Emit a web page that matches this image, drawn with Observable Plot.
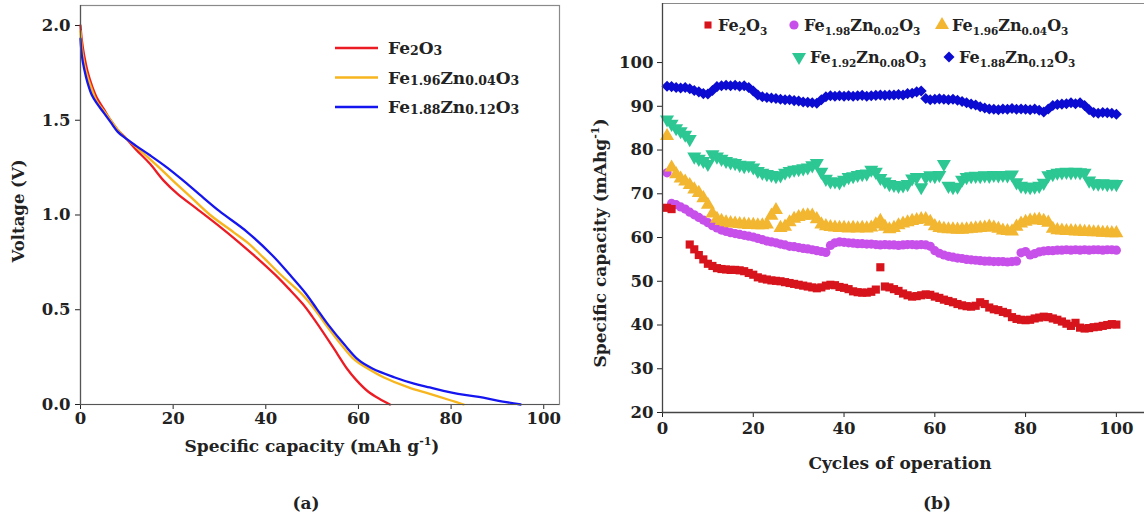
<!DOCTYPE html>
<html><head><meta charset="utf-8">
<script src="https://cdn.jsdelivr.net/npm/d3@7"></script>
<script src="https://cdn.jsdelivr.net/npm/@observablehq/plot@0.6"></script>
<style>
body{margin:0;background:#fff;}
#wrap{position:relative;width:1144px;height:520px;overflow:hidden;background:#fff;}
#pa{position:absolute;left:0;top:0;}
#pb{position:absolute;left:575px;top:0;}
</style></head><body><div id="wrap"><div id="pa"></div><div id="pb"></div></div>
<script>
// ---------- Panel (a): discharge curves ----------
const capFe2O3 = [0,0.3,0.8,1.5,2.5,3.5,5,6.5,8,10,12,15,18,21,25,30,34,38,42,45,48,50,53.5,55.5,57.5,59.5,62,64.5,66.8];
const vFe2O3   = [2.0,1.92,1.84,1.76,1.68,1.62,1.56,1.50,1.45,1.40,1.345,1.27,1.18,1.11,1.035,0.94,0.86,0.775,0.685,0.61,0.53,0.465,0.34,0.265,0.19,0.13,0.07,0.03,0.0];
const capZn04 = [0,0.3,0.8,1.5,2.5,3.5,5,6.5,8,10,12,15,17,20,24,28,33,36,39.5,43,47.7,50,52.7,56,59.2,62,65.4,70.8,75.4,80,82.7];
const vZn04   = [1.97,1.88,1.80,1.73,1.66,1.60,1.55,1.50,1.45,1.40,1.36,1.295,1.25,1.18,1.09,1.0,0.91,0.855,0.775,0.69,0.585,0.52,0.43,0.325,0.235,0.19,0.144,0.09,0.056,0.021,0.0];
const capZn12 = [0,0.3,0.8,1.5,2.5,3.5,5,6.5,8,10,12,15,18.7,22,25.6,30,36,41.5,45,48.5,51,53.5,57,60,63,67.7,72,75.4,81.5,86,90,95];
const vZn12   = [1.93,1.84,1.77,1.70,1.63,1.59,1.54,1.49,1.44,1.40,1.365,1.315,1.25,1.185,1.11,1.02,0.91,0.785,0.69,0.59,0.505,0.42,0.315,0.235,0.19,0.144,0.11,0.09,0.056,0.04,0.021,0.0];
const xTicksA = [0,20,40,60,80,100];
const yTicksA = [0,0.5,1.0,1.5,2.0];

// ---------- Panel (b): cycling ----------
const cycles = d3.range(1, 101);
const capBFe2O3 = [66.8,66.5,null,null,null,58.4,57.3,56.0,55.0,54.0,
 53.5,53.0,52.8,52.7,52.6,52.6,52.5,52.3,51.9,51.5,
 50.9,50.6,50.4,50.2,50.1,50.0,49.8,49.6,49.4,49.2,
 49.0,48.8,48.6,48.4,48.6,49.0,49.2,49.1,48.7,48.5,
 48.2,47.7,47.5,47.4,47.4,47.6,48.1,53.2,48.8,48.6,
 48.2,47.8,47.2,46.8,46.5,46.6,46.8,47.0,46.9,46.5,
 46.2,45.8,45.5,45.2,44.8,44.5,44.3,44.2,44.4,45.2,
 44.8,44.0,43.6,43.4,43.0,42.7,41.8,41.4,41.2,41.1,
 41.2,41.5,41.7,41.9,41.8,41.5,41.2,40.8,40.3,39.8,
 40.5,39.4,39.2,39.3,39.5,39.6,39.8,40.0,40.2,40.1];
const capBZn02 = [74.8,67.8,67.5,67.0,66.5,65.8,65.2,64.6,64.0,63.4,
 62.7,62.2,61.7,61.4,61.1,60.9,60.7,60.5,60.3,60.1,
 59.8,59.5,59.2,59.0,58.8,58.5,58.3,58.0,57.9,57.7,
 57.5,57.4,57.2,57.0,56.8,56.6,58.2,58.8,59.0,58.9,
 58.8,58.7,58.6,58.6,58.5,58.5,58.4,58.3,58.4,58.3,
 58.3,58.2,58.3,58.4,58.4,58.3,58.4,58.3,58.0,57.0,
 56.4,56.0,55.7,55.5,55.3,55.2,55.0,54.9,54.8,54.7,
 54.6,54.6,54.5,54.5,54.5,54.4,54.5,54.6,56.5,56.8,
 56.0,56.3,56.7,56.9,57.0,57.0,57.1,57.1,57.2,57.1,
 57.2,57.1,57.2,57.1,57.2,57.2,57.1,57.2,57.2,57.1];
const capBZn04 = [83.2,76.0,74.5,73.5,72.8,72.0,71.0,70.2,69.0,67.5,
 65.5,64.3,63.8,63.5,63.3,63.2,63.1,63.0,62.9,62.9,
 62.8,62.8,63.0,65.0,66.3,62.2,62.5,63.5,64.3,64.7,
 65.0,65.1,65.0,64.2,63.0,62.6,62.4,62.3,62.2,62.2,
 62.1,62.2,62.1,62.2,62.1,62.3,63.0,63.8,62.5,61.9,
 62.2,62.8,63.2,63.5,63.8,64.0,64.2,64.2,63.6,62.6,
 62.2,62.0,61.9,61.9,61.8,61.8,61.9,62.0,62.1,62.2,
 62.3,62.5,62.3,62.0,61.6,61.5,61.4,62.5,63.2,63.6,
 63.9,64.0,64.1,63.8,63.4,62.0,61.7,61.6,61.5,61.5,
 61.4,61.4,61.3,61.3,61.2,61.2,61.1,61.1,61.0,61.0];
const capBZn08 = [87.0,86.0,85.0,84.3,83.5,82.5,78.5,78.0,77.5,76.8,
 79.0,78.5,78.0,77.5,77.2,77.0,76.6,76.3,76.5,76.0,
 75.2,74.8,74.5,74.3,74.0,74.2,74.8,75.2,75.5,75.6,
 75.8,76.0,76.5,77.0,75.0,73.4,72.8,72.8,72.6,73.2,
 73.8,74.0,74.3,74.5,74.6,75.5,75.0,73.6,72.8,72.2,
 72.0,71.8,71.9,72.2,73.5,73.8,71.5,73.8,74.2,74.0,
 74.3,76.8,71.8,71.5,71.6,73.2,73.8,74.0,74.1,74.0,
 74.2,74.1,74.3,74.2,74.3,74.2,74.4,72.6,71.8,71.6,
 71.5,71.6,71.8,72.5,74.2,74.5,74.8,74.9,75.0,74.9,
 75.0,74.9,74.8,73.0,72.4,72.3,72.4,72.2,72.3,72.2];
const capBZn12 = [94.6,94.5,94.3,94.2,94.3,94.0,93.6,93.3,92.9,92.8,
 93.6,94.5,94.7,94.8,94.7,94.8,94.6,94.7,94.3,93.5,
 92.6,92.2,92.0,91.9,91.8,91.6,91.5,91.5,91.3,91.2,
 91.0,90.9,90.8,90.7,91.5,92.2,92.4,92.3,92.4,92.3,
 92.4,92.3,92.4,92.5,92.3,92.4,92.5,92.6,92.5,92.6,
 92.6,92.7,92.6,92.9,93.0,93.3,93.5,91.8,91.5,91.6,
 91.7,91.6,91.5,91.6,91.4,91.1,90.8,90.5,90.3,89.9,
 89.6,89.4,89.3,89.2,89.4,89.3,89.5,89.3,89.4,89.3,
 89.2,89.4,89.1,88.7,89.4,90.2,90.4,90.5,90.6,90.8,
 90.6,90.8,90.2,89.2,88.6,88.4,88.6,88.5,88.4,88.2];
const xTicksB = [0,20,40,60,80,100];
const yTicksB = [20,30,40,50,60,70,80,90,100];

const FONT = "'DejaVu Serif', serif";
const INK = "#222";

// ----- build panel a -----
const linesA = [
  {name:"Fe2O3", cap:capFe2O3, v:vFe2O3, color:"#ec1c24"},
  {name:"Zn04", cap:capZn04, v:vZn04, color:"#f7b51e"},
  {name:"Zn12", cap:capZn12, v:vZn12, color:"#1515f0"}
];
const rowsA = linesA.flatMap(s => s.cap.map((c,i)=>({s:s.name, c, v:s.v[i]})));
const plotA = Plot.plot({
  width: 575, height: 520,
  marginLeft: 80, marginRight: 16, marginTop: 5, marginBottom: 116,
  style: {fontFamily: FONT, fontSize: "16.5px", fontWeight: "bold", color: INK, background: "white"},
  x: {domain: [0, 103.4], ticks: xTicksA, tickSize: 5, tickPadding: 3, label: null},
  y: {domain: [0, 2.1055], ticks: yTicksA, tickSize: 5, tickPadding: 5, tickFormat: d3.format(".1f"), label: null},
  color: {domain: linesA.map(d=>d.name), range: linesA.map(d=>d.color)},
  marks: [
    Plot.frame({stroke: "#8a8a8a", strokeWidth: 1.2}),
    Plot.line(rowsA, {x: "c", y: "v", z: "s", stroke: "s", strokeWidth: 2.3, curve: "catmull-rom"}),
    Plot.ruleX([0], {stroke: "#555", strokeWidth: 1.2}),
    Plot.ruleY([0], {stroke: "#555", strokeWidth: 1.2})
  ]
});
document.getElementById("pa").appendChild(plotA);

function subParts(s) {
  const out = [];
  s.replace(/([A-Za-z]+)|([0-9.]+)/g, (m, a, n) => { out.push([m, !!n]); return m; });
  return out;
}
function writeFormula(g, x, y, s, big, small, dy) {
  const t = g.append("text").attr("x", x).attr("y", y).attr("text-anchor", "start")
    .attr("font-family", FONT).attr("font-weight", "bold").attr("fill", INK);
  const parts = subParts(s);
  parts.forEach(([txt, sub], i) => {
    const ts = t.append("tspan").text(txt).attr("font-size", sub ? small : big);
    const prevSub = i > 0 && parts[i-1][1];
    if (sub && !prevSub) ts.attr("dy", dy);
    else if (!sub && prevSub) ts.attr("dy", -dy);
  });
  return t;
}

const svgA = d3.select(plotA);
{
  const lg = svgA.append("g");
  const names = ["Fe2O3", "Fe1.96Zn0.04O3", "Fe1.88Zn0.12O3"];
  names.forEach((n, i) => {
    const y = 48 + i * 29.5;
    lg.append("line").attr("x1", 335).attr("x2", 378).attr("y1", y).attr("y2", y)
      .attr("stroke", linesA[i].color).attr("stroke-width", 2.6);
    writeFormula(lg, 388, y + 6, n, 17, 12.5, 1);
  });
  svgA.append("text").attr("x", 312).attr("y", 452).attr("text-anchor", "middle")
    .attr("font-family", FONT).attr("font-weight", "bold").attr("font-size", 17).attr("fill", INK)
    .call(t => { t.append("tspan").text("Specific capacity (mAh g"); t.append("tspan").text("-1").attr("font-size", 11).attr("dy", -7); t.append("tspan").text(")").attr("dy", 7); });
  svgA.append("text").attr("transform", "translate(24,211) rotate(-90)").attr("text-anchor", "middle")
    .attr("font-family", FONT).attr("font-weight", "bold").attr("font-size", 16.5).attr("fill", INK)
    .text("Voltage (V)");
  svgA.append("text").attr("x", 306).attr("y", 509).attr("text-anchor", "middle")
    .attr("font-family", FONT).attr("font-weight", "bold").attr("font-size", 17).attr("fill", INK)
    .text("(a)");
}

// ----- build panel b -----
const seriesB = [
  {name:"Fe1.98Zn0.02O3", vals:capBZn02, color:"#c850ea", symbol:"circle", r:4.6, rotate:0},
  {name:"Fe2O3", vals:capBFe2O3, color:"#d7141c", symbol:"square", r:4.6, rotate:0},
  {name:"Fe1.96Zn0.04O3", vals:capBZn04, color:"#f2b630", symbol:"triangle", r:5.2, rotate:0},
  {name:"Fe1.92Zn0.08O3", vals:capBZn08, color:"#2cc792", symbol:"triangle", r:5.2, rotate:180},
  {name:"Fe1.88Zn0.12O3", vals:capBZn12, color:"#0b0bd2", symbol:"square", r:4.4, rotate:45}
];
const yTopB = 113.5;
const plotB = Plot.plot({
  width: 569, height: 520,
  marginLeft: 87, marginRight: 0, marginTop: 3, marginBottom: 108,
  style: {fontFamily: FONT, fontSize: "16.5px", fontWeight: "bold", color: INK, background: "white"},
  x: {domain: [0, 106.2], ticks: xTicksB, tickSize: 5, tickPadding: 5, label: null},
  y: {domain: [20, yTopB], ticks: yTicksB, tickSize: 5, tickPadding: 4, label: null},
  marks: [
    ...seriesB.map(s => Plot.dot(cycles.map((c,i)=>({c, v:s.vals[i]})).filter(d=>d.v!=null),
      {x: "c", y: "v", symbol: () => s.symbol, r: s.r, fill: s.color, stroke: "none", rotate: s.rotate})),
    Plot.ruleY([yTopB], {stroke: "#8a8a8a", strokeWidth: 1.2}),
    Plot.ruleX([0], {stroke: "#444", strokeWidth: 1.3}),
    Plot.ruleY([20], {stroke: "#444", strokeWidth: 1.3})
  ]
});
document.getElementById("pb").appendChild(plotB);
const svgB = d3.select(plotB);
{
  const lg = svgB.append("g");
  const items = [
    {i:1, mx:133, tx:143, y:31},
    {i:0, mx:219, tx:229, y:31},
    {i:2, mx:367, tx:377, y:31},
    {i:3, mx:224, tx:235, y:63},
    {i:4, mx:374, tx:384, y:63}
  ];
  items.forEach(it => {
    const s = seriesB[it.i];
    const sym = s.symbol === "circle" ? d3.symbolCircle : s.symbol === "square" ? d3.symbolSquare : d3.symbolTriangle;
    const size = Math.PI * s.r * s.r * (s.symbol==="square" && s.rotate===0 ? 0.75 : 1);
    lg.append("path").attr("d", d3.symbol(sym, size)())
      .attr("transform", `translate(${it.mx},${it.y - 6}) rotate(${s.rotate})`)
      .attr("fill", s.color);
    writeFormula(lg, it.tx, it.y, s.name, 16, 10.5, 4);
  });
  svgB.append("text").attr("x", 325).attr("y", 469).attr("text-anchor", "middle")
    .attr("font-family", FONT).attr("font-weight", "bold").attr("font-size", 17).attr("fill", INK)
    .text("Cycles of operation");
  svgB.append("text").attr("transform", "translate(31,243) rotate(-90)").attr("text-anchor", "middle")
    .attr("font-family", FONT).attr("font-weight", "bold").attr("font-size", 17).attr("fill", INK)
    .call(t => { t.append("tspan").text("Specific capacity (mAhg"); t.append("tspan").text("-1").attr("font-size", 11).attr("dy", -7); t.append("tspan").text(")").attr("dy", 7); });
  svgB.append("text").attr("x", 362).attr("y", 509).attr("text-anchor", "middle")
    .attr("font-family", FONT).attr("font-weight", "bold").attr("font-size", 17).attr("fill", INK)
    .text("(b)");
}
</script></body></html>
